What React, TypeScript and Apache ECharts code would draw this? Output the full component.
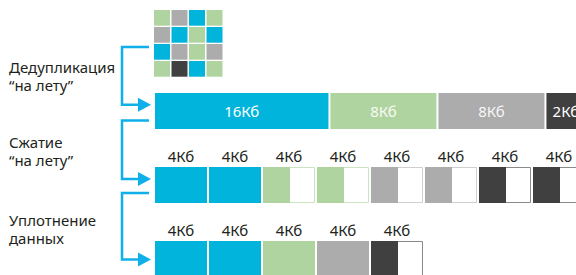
import React, { useEffect, useRef } from "react";
import * as echarts from "echarts";

// ---- data ----
const ROW_LABELS = ["Дедупликация\n“на лету”", "Сжатие\n“на лету”", "Уплотнение\nданных"];
const KIND_COLORS = ["#00b4dc", "#afd4a0", "#acacac", "#404040"];
const KIND_BORDERS = ["#00b4dc", "#cbe3c0", "#cfcfcf", "#8a8a8a"];

// 4x4 source blocks (kind index per cell)
const SOURCE_GRID = [
  [1, 2, 0, 1],
  [2, 0, 1, 0],
  [0, 2, 1, 2],
  [1, 3, 0, 1],
];

// row 0: deduplicated stream
const DEDUP_SIZES = [16, 8, 8, 2];
const DEDUP_LABELS = ["16Кб", "8Кб", "8Кб", "2Кб"];
const DEDUP_KINDS = [0, 1, 2, 3];

// row 1: compressed 4K blocks
const BLOCK_SIZE = 4;
const BLOCK_LABEL = "4Кб";
const COMPRESS_KINDS = [0, 0, 1, 1, 2, 2, 3, 3];
const COMPRESS_FILL = [1, 1, 0.5, 0.5, 0.5, 0.5, 0.5, 0.5];

// row 2: compacted 4K blocks
const COMPACT_KINDS = [0, 0, 1, 2, 3];
const COMPACT_FILL = [1, 1, 1, 1, 0.5];

const FONT = '"Noto Sans", sans-serif';
const BRACKET = "#0fb0ea";

export default function App() {
  const ref = useRef<HTMLDivElement>(null);

  useEffect(() => {
    if (!ref.current) return;
    const chart = echarts.init(ref.current, undefined, { renderer: "svg" });

    // display width of dedup segments (Кб units, compressed scale)
    const disp = (s: number) => 8 * Math.pow(s / 8, 0.7);

    type Item = { value: number[]; label: string };
    const items: Item[] = [];
    let acc = 0;
    DEDUP_SIZES.forEach((s, i) => {
      const w = disp(s);
      items.push({ value: [acc, 0, acc + w, DEDUP_KINDS[i], 1, 0], label: DEDUP_LABELS[i] });
      acc += w;
    });
    COMPRESS_KINDS.forEach((k, i) => {
      items.push({ value: [i * BLOCK_SIZE, 1, (i + 1) * BLOCK_SIZE, k, COMPRESS_FILL[i], 1], label: BLOCK_LABEL });
    });
    COMPACT_KINDS.forEach((k, i) => {
      items.push({ value: [i * BLOCK_SIZE, 2, (i + 1) * BLOCK_SIZE, k, COMPACT_FILL[i], 1], label: BLOCK_LABEL });
    });

    const gridItems: number[][] = [];
    SOURCE_GRID.forEach((row, r) => row.forEach((k, c) => gridItems.push([c, r, k])));

    const bracket = (top: number, arrow: number) => [
      {
        type: "polyline",
        shape: { points: [[149, top], [122, top], [122, arrow], [139, arrow]] },
        style: { stroke: BRACKET, lineWidth: 2.5, fill: null },
        silent: true,
      },
      {
        type: "polygon",
        shape: { points: [[138, arrow - 7], [151, arrow], [138, arrow + 7]] },
        style: { fill: BRACKET },
        silent: true,
      },
    ];

    const labelTops = [58, 133, 211];

    chart.setOption({
      animation: false,
      grid: [
        { left: 155, top: 74, width: 432, height: 222, outerBoundsMode: "none", containLabel: false },
        { left: 154, top: 10, width: 70, height: 68, outerBoundsMode: "none", containLabel: false },
      ],
      xAxis: [
        { type: "value", gridIndex: 0, min: 0, max: 32, show: false },
        { type: "category", gridIndex: 1, data: ["a", "b", "c", "d"], show: false },
      ],
      yAxis: [
        { type: "category", gridIndex: 0, data: ["dedup", "compress", "compact"], inverse: true, show: false },
        { type: "category", gridIndex: 1, data: ["1", "2", "3", "4"], inverse: true, show: false },
      ],
      graphic: [
        ...bracket(47, 104.7),
        ...bracket(120.5, 179),
        ...bracket(193, 259.5),
        ...ROW_LABELS.map((t, i) => ({
          type: "text",
          left: 9,
          top: labelTops[i],
          silent: true,
          style: { text: t, font: `15px ${FONT}`, fill: "#231f20", lineHeight: 18 },
        })),
      ],
      series: [
        {
          type: "custom",
          xAxisIndex: 0,
          yAxisIndex: 0,
          clip: false,
          data: items.map((d) => d.value),
          renderItem: (params: any, api: any) => {
            const x0 = api.value(0);
            const row = api.value(1);
            const x1 = api.value(2);
            const kind = api.value(3);
            const fill = api.value(4);
            const above = api.value(5);
            const label = items[params.dataIndex].label;
            const p0 = api.coord([x0, row]);
            const p1 = api.coord([x1, row]);
            const h = 36;
            const top = p0[1] - h / 2;
            const w = p1[0] - p0[0] - 2;
            const children: any[] = [];
            if (fill < 1) {
              children.push({
                type: "rect",
                shape: { x: p0[0] + 0.5, y: top + 0.5, width: w - 1, height: h - 1 },
                style: { fill: "#ffffff", stroke: KIND_BORDERS[kind], lineWidth: 1 },
              });
              children.push({
                type: "rect",
                shape: { x: p0[0], y: top, width: w * fill + 1, height: h },
                style: { fill: KIND_COLORS[kind] },
              });
            } else {
              children.push({
                type: "rect",
                shape: { x: p0[0], y: top, width: w, height: h },
                style: { fill: KIND_COLORS[kind] },
              });
            }
            if (above) {
              children.push({
                type: "text",
                x: p0[0] + w / 2,
                y: top - 11,
                style: {
                  text: label,
                  font: `15px ${FONT}`,
                  fill: "#231f20",
                  textAlign: "center",
                  textVerticalAlign: "middle",
                  align: "center",
                  verticalAlign: "middle",
                },
              });
            } else {
              children.push({
                type: "text",
                x: p0[0] + w / 2,
                y: top + h / 2,
                style: {
                  text: label,
                  font: `15px ${FONT}`,
                  fill: "#ffffff",
                  opacity: kind === 0 || kind === 3 ? 1 : 0.92,
                  textAlign: "center",
                  textVerticalAlign: "middle",
                  align: "center",
                  verticalAlign: "middle",
                },
              });
            }
            return { type: "group", children };
          },
        },
        {
          type: "custom",
          xAxisIndex: 1,
          yAxisIndex: 1,
          data: gridItems,
          renderItem: (params: any, api: any) => {
            const c = api.coord([api.value(0), api.value(1)]);
            const s = api.size([1, 1]);
            const w = s[0] - 1.5;
            const h = s[1] - 1.3;
            return {
              type: "rect",
              shape: { x: c[0] - s[0] / 2, y: c[1] - s[1] / 2, width: w, height: h },
              style: { fill: KIND_COLORS[api.value(2)] },
            };
          },
        },
      ],
    });

    return () => chart.dispose();
  }, []);

  return (
    <div
      ref={ref}
      style={{ position: "absolute", left: 0, top: 0, width: 576, height: 275 }}
    />
  );
}
